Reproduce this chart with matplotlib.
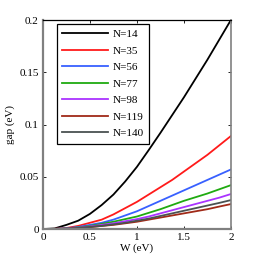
import matplotlib
matplotlib.use("Agg")
import matplotlib.pyplot as plt

# data
W = [0, 0.125, 0.25, 0.375, 0.5, 0.625, 0.75, 0.875, 1.0,
     1.125, 1.25, 1.375, 1.5, 1.625, 1.75, 1.875, 2.0]
gap_14 = [0, 0.0006, 0.004, 0.008, 0.0145, 0.023, 0.033, 0.0455, 0.0595,
          0.0755, 0.092, 0.109, 0.126, 0.144, 0.162, 0.181, 0.200]
gap_35 = [0, 0.0002, 0.001, 0.003, 0.006, 0.009, 0.014, 0.020, 0.026,
          0.033, 0.040, 0.047, 0.055, 0.063, 0.071, 0.080, 0.089]
gap_56 = [0, 0.0001, 0.0007, 0.002, 0.004, 0.006, 0.009, 0.013, 0.017,
          0.022, 0.027, 0.032, 0.037, 0.042, 0.047, 0.052, 0.057]
gap_77 = [0, 0.0001, 0.0005, 0.0015, 0.003, 0.005, 0.007, 0.0095, 0.012,
          0.0155, 0.019, 0.023, 0.027, 0.0305, 0.034, 0.038, 0.042]
gap_98 = [0, 0.0001, 0.0004, 0.0012, 0.0025, 0.004, 0.0055, 0.0075, 0.0095,
          0.012, 0.015, 0.018, 0.021, 0.024, 0.027, 0.030, 0.0335]
gap_119 = [0, 0.0001, 0.0003, 0.0009, 0.0018, 0.003, 0.004, 0.0055, 0.007,
           0.009, 0.011, 0.013, 0.015, 0.017, 0.019, 0.0215, 0.0239]
gap_140 = [0, 0.0001, 0.0003, 0.001, 0.002, 0.003, 0.0045, 0.006, 0.008,
           0.010, 0.0125, 0.015, 0.0175, 0.020, 0.0225, 0.025, 0.0277]

labels = ["N=14", "N=35", "N=56", "N=77", "N=98", "N=119", "N=140"]
series = [gap_14, gap_35, gap_56, gap_77, gap_98, gap_119, gap_140]
colors = ["#000000", "#ff1a1a", "#3860ff", "#1faa10", "#aa33ff", "#a02a18", "#4a5252"]

plt.rcParams['font.family'] = ['Liberation Serif', 'DejaVu Serif']
plt.rcParams['font.size'] = 8

fig = plt.figure(figsize=(2.54, 2.60), dpi=100)
ax = fig.add_axes([0.169, 0.119, 0.740, 0.804])

for y, lab, c in zip(series, labels, colors):
    ax.plot(W, y, color=c, lw=1.3, label=lab)

ax.set_xlim(0, 2)
ax.set_ylim(0, 0.2)
ax.set_xticks([0, 0.5, 1, 1.5, 2])
ax.set_xticklabels(["0", "0.5", "1", "1.5", "2"])
ax.set_yticks([0, 0.05, 0.1, 0.15, 0.2])
ax.set_yticklabels(["0", "0.05", "0.1", "0.15", "0.2"])
ax.tick_params(direction='in', length=2.5, width=0.6, top=True, right=True,
               labelsize=8, pad=3)
ax.set_xlabel("W (eV)", fontsize=8, labelpad=1)
ax.set_ylabel("gap (eV)", fontsize=8, labelpad=3)

for s in ['left', 'bottom']:
    ax.spines[s].set_color('#808080')
    ax.spines[s].set_linewidth(1.6)
ax.spines['right'].set_color('#808080')
ax.spines['right'].set_linewidth(1.2)
ax.spines['top'].set_color('#000000')
ax.spines['top'].set_linewidth(0.9)

leg = ax.legend(loc='upper left', bbox_to_anchor=(0.0745, 0.981), borderaxespad=0,
                fancybox=False, framealpha=1, edgecolor='black', fontsize=8,
                handlelength=4.1, labelspacing=0.6, handletextpad=0.4,
                borderpad=0.5)
leg.get_frame().set_linewidth(0.9)

fig.savefig("out.png", dpi=100)
